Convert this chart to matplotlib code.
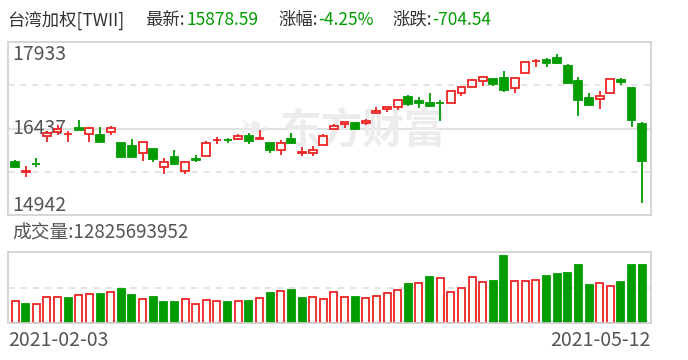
import matplotlib
matplotlib.use('Agg')
import matplotlib.pyplot as plt

plt.rcParams['font.family'] = ['Noto Sans CJK SC', 'DejaVu Sans']

## header values
name = '台湾加权[TWII]'
latest = 15878.59
pct = -4.25
change = -704.54
last_volume = 12825693952
first_date = '2021-02-03'
last_date = '2021-05-12'

## daily OHLC
open_ = [15853, 15680, 15829, 16308, 16382, 16334, 16441, 16337, 16325, 16382,
         16182, 16135, 16009, 16083, 15767, 15945, 15708, 15910, 15957, 16240,
         16244, 16261, 16308, 16256, 16192, 16066, 16261, 16009, 16019, 16152,
         16424, 16510, 16527, 16538, 16711, 16775, 16804, 16977, 16913, 16884,
         16878, 16873, 17046, 17150, 17254, 17293, 17305, 17132, 17392, 17604,
         17622, 17651, 17518, 17259, 16960, 16942, 17046, 17281, 17138, 16515]
high = [15893, 15789, 15922, 16394, 16498, 16394, 16585, 16458, 16458, 16481,
        16187, 16256, 16199, 16083, 15922, 16066, 15853, 15979, 16221, 16296,
        16278, 16342, 16355, 16412, 16192, 16239, 16365, 16112, 16135, 16337,
        16510, 16550, 16550, 16597, 16804, 16827, 16925, 17017, 16977, 17051,
        16922, 17081, 17150, 17293, 17323, 17293, 17432, 17305, 17582, 17639,
        17656, 17726, 17553, 17328, 17051, 17086, 17293, 17316, 17138, 16550]
low = [15749, 15604, 15777, 16209, 16325, 16209, 16420, 16209, 16209, 16325,
       15945, 15945, 15881, 15853, 15646, 15806, 15651, 15853, 15957, 16170,
       16182, 16239, 16170, 16256, 16019, 15979, 16182, 15962, 15962, 16152,
       16424, 16451, 16429, 16498, 16711, 16728, 16757, 16832, 16797, 16814,
       16567, 16873, 17005, 17150, 17177, 17177, 17074, 17056, 17392, 17506,
       17506, 17558, 17229, 16659, 16844, 16780, 17046, 17190, 16469, 15155]
close = [15777, 15703, 15819, 16355, 16424, 16342, 16420, 16441, 16209, 16441,
         15950, 15945, 16199, 15910, 15853, 15824, 15853, 15901, 16182, 16247,
         16235, 16308, 16227, 16278, 16066, 16192, 16182, 16031, 16066, 16308,
         16481, 16550, 16429, 16572, 16740, 16809, 16925, 16866, 16870, 16832,
         16870, 17081, 17150, 17271, 17323, 17212, 17108, 17305, 17582, 17613,
         17575, 17565, 17229, 16935, 16844, 16994, 17293, 17247, 16583, 15878.59]
prev_close = 15700

## volume in 1e8
volume = [48.6, 42.0, 42.0, 56.8, 56.8, 55.3, 61.3, 64.1, 64.1, 68.6,
          75.2, 61.9, 52.4, 57.5, 46.4, 46.4, 52.4, 41.4, 50.2, 48.6,
          46.4, 48.6, 48.6, 54.6, 66.3, 70.8, 73.0, 55.3, 56.8, 52.4,
          68.6, 56.8, 56.8, 54.6, 59.0, 66.3, 72.3, 86.2, 87.8, 101.7,
          98.8, 67.9, 76.7, 101.1, 90.0, 92.9, 148.2, 92.2, 92.2, 94.4,
          103.9, 108.4, 110.6, 128.3, 84.0, 87.8, 81.2, 90.7, 128.3, 128.26]

y_max, y_min = 17933, 14942
vol_max = 157

RED = '#ee2424'
GREEN = '#009c00'
GRID = '#dcdcdc'
TXT = '#555555'

W, H = 688, 360
fig = plt.figure(figsize=(W / 100, H / 100), dpi=100)


def box(left, top, right, bottom):
    return [left / W, 1 - bottom / H, (right - left) / W, (bottom - top) / H]


ax = fig.add_axes(box(8, 42, 651, 215))
axv = fig.add_axes(box(8, 252, 651, 323))

n = len(close)
x = list(range(n))
for a in (ax, axv):
    a.set_xlim(-0.66, n - 1 + 0.83)
    a.set_xticks([])
    a.set_yticks([])
    for s in a.spines.values():
        s.set_color('#d0d0d0')
        s.set_linewidth(1.2)

## price panel
ax.set_ylim(y_min, y_max)
mid = (y_max + y_min) / 2
ax.axhline(mid, color=GRID, lw=1.2, zorder=0)
for q in (y_min + (y_max - y_min) / 4, y_min + 3 * (y_max - y_min) / 4):
    ax.axhline(q, color=GRID, lw=1.1, ls=(0, (4, 4)), zorder=0)

# watermark
ax.text((280 - 8) / 643, 0.49, '东方财富', transform=ax.transAxes, ha='left', va='center',
        fontsize=30, fontweight='bold', color='#ececec', zorder=0)
ax.text((238 - 8) / 643, 0.49, '\u2767', transform=ax.transAxes, ha='left', va='center',
        fontsize=26, color='#ececec', zorder=0, family='DejaVu Sans')

up = [c >= o for o, c in zip(open_, close)]
cols = [RED if u else GREEN for u in up]
ax.vlines(x, low, high, colors=cols, lw=1.3, zorder=2)
bottoms = [min(o, c) for o, c in zip(open_, close)]
heights = [max(abs(c - o), 4) for o, c in zip(open_, close)]
ax.bar(x, heights, bottom=bottoms, width=0.74,
       color=['white' if u else GREEN for u in up],
       edgecolor=cols, linewidth=1.3, zorder=3)

lab = 14
ax.text(0.006, 0.99, str(y_max), transform=ax.transAxes, ha='left', va='top',
        fontsize=lab, color=TXT, zorder=1)
ax.text(0.006, 0.5, str(int(mid)), transform=ax.transAxes, ha='left', va='center',
        fontsize=lab, color=TXT, zorder=1)
ax.text(0.006, -0.005, str(y_min), transform=ax.transAxes, ha='left', va='bottom',
        fontsize=lab, color=TXT, zorder=1)

## volume panel
axv.set_ylim(0, vol_max)
axv.axhline(vol_max / 2, color=GRID, lw=1.1, ls=(0, (4, 4)), zorder=0)
prev = [prev_close] + close[:-1]
vup = [c >= p for c, p in zip(close, prev)]
axv.bar(x, volume, width=0.66,
        color=['white' if u else GREEN for u in vup],
        edgecolor=[RED if u else GREEN for u in vup], linewidth=1.3, zorder=2)

## header
fs = 12.5
parts = [(name, '#333333', 7), ('最新:', '#333333', 145), ('%.2f' % latest, GREEN, 186),
         ('涨幅:', '#333333', 278), ('%.2f%%' % pct, GREEN, 318),
         ('涨跌:', '#333333', 392), ('%.2f' % change, GREEN, 432)]
for t, c, px in parts:
    fig.text(px / W, 1 - 20 / H, t, color=c, fontsize=fs, ha='left', va='center')

fig.text(12 / W, 1 - 233 / H, '成交量:%d' % last_volume, color=TXT,
         fontsize=13.5, ha='left', va='center')
fig.text(8 / W, 1 - 341 / H, first_date, color=TXT, fontsize=14, ha='left', va='center')
fig.text(651 / W, 1 - 341 / H, last_date, color=TXT, fontsize=14, ha='right', va='center')

fig.savefig('out.png', dpi=100)
